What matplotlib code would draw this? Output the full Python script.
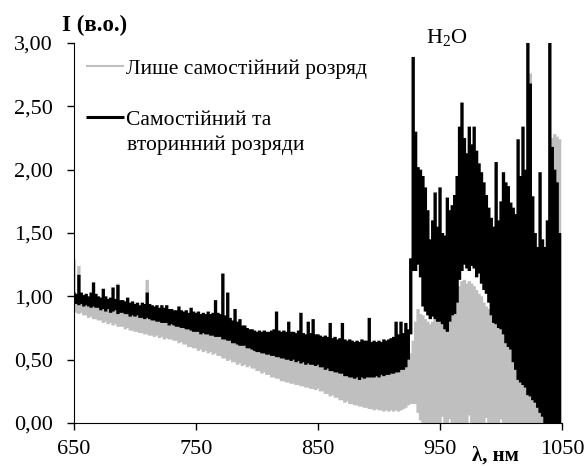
import numpy as np
import matplotlib
matplotlib.use("Agg")
import matplotlib.pyplot as plt

plt.rcParams['font.family'] = ['Liberation Serif', 'DejaVu Serif']
plt.rcParams['mathtext.fontset'] = 'custom'
plt.rcParams['mathtext.rm'] = 'Liberation Serif'

# довжина хвилі, нм (крок 2 нм); для кожного кроку - мінімум і максимум густого спектру
wavelength = np.arange(650, 1050, 2)

# лише самостійний розряд (сірий)
gray_upper = [
    1.29, 0.95, 1.24, 0.94, 0.93, 0.94, 0.92, 0.92, 0.93, 0.92,
    0.92, 0.91, 0.91, 0.90, 0.91, 0.90, 0.89, 0.89, 1.10, 0.88,
    0.88, 0.87, 0.87, 0.86, 0.86, 0.85, 0.86, 0.85, 0.84, 0.84,
    1.13, 0.83, 0.83, 0.82, 0.82, 0.81, 0.81, 0.80, 0.80, 0.79,
    0.79, 0.78, 0.78, 0.77, 0.77, 0.76, 0.76, 0.75, 0.74, 0.74,
    0.73, 0.73, 0.72, 0.72, 0.72, 0.71, 0.71, 0.70, 0.70, 0.69,
    0.69, 0.68, 0.67, 0.67, 0.66, 0.65, 0.64, 0.63, 0.63, 0.62,
    0.62, 0.61, 0.60, 0.59, 0.58, 0.58, 0.57, 0.57, 0.56, 0.56,
    0.55, 0.55, 0.54, 0.54, 0.53, 0.53, 0.52, 0.52, 0.51, 0.51,
    0.51, 0.50, 0.50, 0.49, 0.49, 0.48, 0.48, 0.48, 0.47, 0.47,
    0.47, 0.46, 0.45, 0.44, 0.44, 0.43, 0.42, 0.42, 0.41, 0.41,
    0.40, 0.39, 0.38, 0.38, 0.37, 0.37, 0.37, 0.36, 0.37, 0.37,
    0.37, 0.38, 0.37, 0.38, 0.38, 0.38, 0.39, 0.39, 0.39, 0.40,
    0.40, 0.41, 0.41, 0.42, 0.43, 0.44, 0.45, 0.51, 0.55, 0.65,
    0.80, 0.90, 0.86, 0.85, 0.82, 0.80, 0.78, 0.80, 0.82, 0.84,
    0.86, 0.88, 0.90, 0.92, 0.95, 0.96, 0.98, 1.02, 1.08, 1.12,
    1.13, 1.10, 1.12, 1.10, 1.08, 1.05, 1.02, 1.00, 0.95, 0.92,
    0.90, 0.88, 0.86, 0.80, 0.76, 0.74, 0.74, 0.72, 0.70, 0.65,
    0.60, 0.55, 0.48, 0.40, 0.34, 0.30, 0.25, 2.76, 0.22, 0.16,
    0.12, 0.10, 0.06, 0.03, 0.02, 0.05, 2.25, 2.28, 2.26, 2.24,
]
gray_lower = [
    0.88, 0.87, 0.86, 0.87, 0.85, 0.85, 0.83, 0.84, 0.82, 0.82,
    0.81, 0.81, 0.79, 0.80, 0.78, 0.79, 0.77, 0.78, 0.76, 0.76,
    0.76, 0.74, 0.75, 0.73, 0.73, 0.72, 0.72, 0.71, 0.71, 0.70,
    0.70, 0.69, 0.69, 0.68, 0.69, 0.67, 0.68, 0.66, 0.67, 0.66,
    0.66, 0.65, 0.65, 0.63, 0.64, 0.62, 0.62, 0.60, 0.60, 0.59,
    0.59, 0.57, 0.58, 0.56, 0.57, 0.55, 0.56, 0.54, 0.55, 0.53,
    0.53, 0.51, 0.51, 0.49, 0.50, 0.48, 0.48, 0.46, 0.47, 0.45,
    0.46, 0.44, 0.45, 0.43, 0.43, 0.41, 0.41, 0.39, 0.40, 0.38,
    0.38, 0.36, 0.36, 0.35, 0.35, 0.33, 0.33, 0.32, 0.32, 0.31,
    0.31, 0.30, 0.30, 0.29, 0.29, 0.28, 0.28, 0.27, 0.27, 0.26,
    0.27, 0.25, 0.25, 0.23, 0.23, 0.21, 0.22, 0.20, 0.20, 0.18,
    0.18, 0.16, 0.17, 0.15, 0.15, 0.14, 0.14, 0.13, 0.13, 0.12,
    0.12, 0.11, 0.11, 0.10, 0.11, 0.10, 0.10, 0.09, 0.10, 0.09,
    0.10, 0.09, 0.10, 0.09, 0.10, 0.11, 0.12, 0.14, 0.15, 0.15,
    0.15, 0.08, 0.02, 0.00, 0.00, 0.00, 0.00, 0.00, 0.00, 0.00,
    0.00, 0.05, 0.00, 0.00, 0.03, 0.00, 0.00, 0.00, 0.00, 0.00,
    0.00, 0.00, 0.06, 0.00, 0.00, 0.00, 0.00, 0.00, 0.00, 0.04,
    0.00, 0.00, 0.00, 0.00, 0.00, 0.03, 0.00, 0.00, 0.00, 0.00,
    0.00, 0.00, 0.00, 0.00, 0.00, 0.00, 0.00, 0.00, 0.00, 0.00,
    0.00, 0.00, 0.00, 0.00, 0.00, 0.00, 0.00, 0.00, 0.00, 0.00,
]

# самостійний та вторинний розряди (чорний)
black_upper = [
    1.03, 1.02, 1.17, 1.03, 1.01, 1.02, 1.00, 1.03, 1.11, 1.02,
    1.00, 0.99, 1.06, 1.00, 0.98, 0.99, 1.07, 0.98, 1.09, 0.97,
    0.97, 0.96, 0.99, 0.95, 0.96, 0.94, 0.95, 0.93, 0.95, 0.94,
    1.03, 0.94, 0.93, 0.92, 0.93, 0.91, 0.93, 0.91, 0.93, 0.90,
    0.90, 0.89, 0.89, 0.92, 0.89, 0.88, 0.89, 0.87, 0.91, 0.88,
    0.87, 0.88, 0.86, 0.87, 0.86, 0.88, 0.86, 0.87, 0.97, 0.87,
    0.86, 1.18, 0.85, 1.03, 0.83, 0.81, 0.90, 0.80, 0.82, 0.77,
    0.77, 0.75, 0.74, 0.74, 0.73, 0.72, 0.73, 0.72, 0.73, 0.72,
    0.72, 0.73, 0.74, 0.88, 0.73, 0.72, 0.73, 0.72, 0.80, 0.72,
    0.72, 0.71, 0.73, 0.87, 0.71, 0.70, 0.80, 0.71, 0.82, 0.70,
    0.70, 0.69, 0.68, 0.69, 0.68, 0.79, 0.67, 0.68, 0.66, 0.67,
    0.79, 0.66, 0.65, 0.66, 0.65, 0.64, 0.65, 0.64, 0.66, 0.65,
    0.65, 0.83, 0.64, 0.65, 0.64, 0.65, 0.64, 0.66, 0.65, 0.66,
    0.67, 0.68, 0.80, 0.70, 0.80, 0.71, 0.79, 0.74, 1.30, 2.89,
    2.30, 2.02, 2.00, 1.95, 1.86, 1.68, 1.45, 1.60, 1.82, 1.55,
    1.86, 1.50, 1.48, 1.78, 1.68, 1.72, 1.80, 1.95, 2.34, 2.53,
    2.25, 2.13, 2.34, 2.20, 2.34, 2.15, 2.05, 1.98, 1.90, 1.80,
    1.70, 1.62, 1.55, 2.06, 1.60, 1.75, 1.98, 1.90, 1.87, 1.74,
    1.70, 1.65, 2.24, 1.95, 2.34, 2.00, 3.20, 2.68, 1.79, 1.50,
    1.39, 1.98, 1.45, 1.39, 1.60, 3.20, 2.18, 2.00, 1.90, 1.50,
]
black_lower = [
    0.95, 0.94, 0.93, 0.94, 0.92, 0.93, 0.92, 0.91, 0.92, 0.91,
    0.91, 0.89, 0.90, 0.88, 0.90, 0.87, 0.88, 0.89, 0.86, 0.87,
    0.87, 0.86, 0.86, 0.84, 0.85, 0.84, 0.85, 0.83, 0.83, 0.82,
    0.83, 0.82, 0.81, 0.81, 0.80, 0.80, 0.79, 0.79, 0.79, 0.77,
    0.78, 0.77, 0.76, 0.76, 0.75, 0.75, 0.74, 0.74, 0.73, 0.72,
    0.72, 0.72, 0.70, 0.71, 0.70, 0.70, 0.69, 0.69, 0.68, 0.68,
    0.68, 0.66, 0.66, 0.65, 0.65, 0.63, 0.63, 0.62, 0.61, 0.61,
    0.61, 0.59, 0.59, 0.58, 0.57, 0.56, 0.56, 0.55, 0.55, 0.54,
    0.54, 0.53, 0.53, 0.52, 0.52, 0.51, 0.51, 0.50, 0.50, 0.49,
    0.50, 0.48, 0.49, 0.47, 0.48, 0.46, 0.47, 0.46, 0.46, 0.45,
    0.46, 0.44, 0.44, 0.42, 0.43, 0.41, 0.41, 0.40, 0.40, 0.39,
    0.39, 0.37, 0.37, 0.36, 0.36, 0.35, 0.36, 0.34, 0.36, 0.35,
    0.36, 0.36, 0.36, 0.36, 0.37, 0.36, 0.38, 0.37, 0.38, 0.38,
    0.39, 0.39, 0.40, 0.40, 0.42, 0.42, 0.44, 0.50, 0.70, 1.20,
    1.20, 1.25, 1.15, 0.92, 0.88, 0.85, 0.82, 0.84, 0.82, 0.80,
    0.80, 0.78, 0.74, 0.72, 0.80, 0.85, 0.86, 0.95, 1.13, 1.20,
    1.25, 1.22, 1.20, 1.24, 1.22, 1.15, 1.18, 1.10, 1.05, 1.02,
    0.95, 0.85, 0.79, 0.78, 0.75, 0.74, 0.70, 0.63, 0.60, 0.58,
    0.48, 0.42, 0.34, 0.32, 0.30, 0.28, 0.22, 0.21, 0.18, 0.16,
    0.12, 0.08, 0.05, 0.00, 0.00, 0.00, 0.00, 0.00, 0.00, 0.00,
]

labels = ['Лише самостійний розряд', 'Самостійний та', 'вторинний розряди']
x_ticks = [650, 750, 850, 950, 1050]
y_ticks = [0.0, 0.5, 1.0, 1.5, 2.0, 2.5, 3.0]
y_tick_labels = ['0,00', '0,50', '1,00', '1,50', '2,00', '2,50', '3,00']

fig = plt.figure(figsize=(5.86, 4.67), dpi=100)
ax = fig.add_axes([0.1263, 0.0942, 0.8328, 0.8137])

ax.vlines(wavelength, gray_lower, gray_upper, color='#bfbfbf', lw=2.4,
          snap=False, label=labels[0])
ax.vlines(wavelength, black_lower, black_upper, color='black', lw=2.4,
          snap=False, label=labels[1])

ax.set_xlim(650, 1050)
ax.set_ylim(0, 3)
ax.set_xticks(x_ticks)
ax.set_yticks(y_ticks)
ax.set_yticklabels(y_tick_labels)
ax.tick_params(labelsize=16, direction='out', length=5, width=1)
ax.tick_params(axis='y', pad=10)
ax.tick_params(axis='x', pad=7)
ax.spines['top'].set_visible(False)
ax.spines['right'].set_visible(False)

ax.text(-0.025, 1.045, 'I (в.о.)', transform=ax.transAxes, fontsize=16.5,
        fontweight='bold', ha='left', va='center')
ax.text(0.863, -0.087, 'λ, нм', transform=ax.transAxes, fontsize=15,
        fontweight='bold', ha='center', va='center')
ax.text(0.764, 1.013, r'H$_\mathrm{2}$O', transform=ax.transAxes,
        fontsize=16, ha='center', va='center')

leg = ax.legend(loc='upper left', bbox_to_anchor=(0.0246, 0.959), frameon=False,
                fontsize=15.5, handlelength=1.75, handletextpad=0.1,
                labelspacing=1.43, borderpad=0, borderaxespad=0)
leg.legend_handles[0].set_linewidth(1.5)
leg.legend_handles[1].set_linewidth(2.2)
ax.text(0.1086, 0.730, labels[2], transform=ax.transAxes, fontsize=15.5,
        ha='left', va='center')

fig.savefig('out.png', dpi=100)
